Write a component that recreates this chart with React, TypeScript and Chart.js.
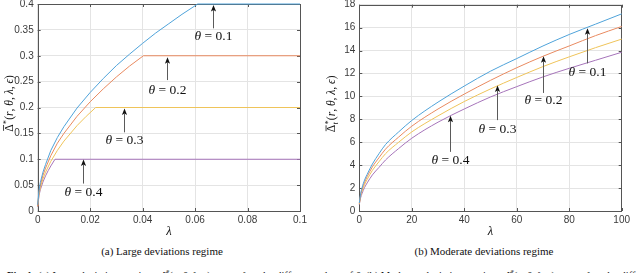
import React, { useEffect, useRef } from "react";
import { Chart, registerables } from "chart.js";
Chart.register(...registerables);

// ---------- (a) Large deviations regime ----------
const lamA1 = [0, 0.0005, 0.001, 0.002, 0.003, 0.005, 0.0075, 0.01, 0.015, 0.02, 0.025, 0.03, 0.035, 0.04, 0.045, 0.05, 0.055, 0.061, 0.1];
const valA1 = [0.012, 0.04, 0.055, 0.075, 0.09, 0.117, 0.142, 0.163, 0.199, 0.229, 0.256, 0.281, 0.303, 0.324, 0.344, 0.362, 0.38, 0.4, 0.4];
const lamA2 = [0, 0.0005, 0.001, 0.002, 0.003, 0.005, 0.0075, 0.01, 0.015, 0.02, 0.025, 0.03, 0.035, 0.0403, 0.1];
const valA2 = [0.01, 0.036, 0.05, 0.069, 0.083, 0.107, 0.131, 0.15, 0.183, 0.211, 0.236, 0.259, 0.28, 0.3, 0.3];
const lamA3 = [0, 0.0005, 0.001, 0.002, 0.003, 0.005, 0.0075, 0.01, 0.015, 0.0185, 0.0221, 0.1];
const valA3 = [0.009, 0.032, 0.045, 0.062, 0.075, 0.096, 0.117, 0.135, 0.165, 0.183, 0.2, 0.2];
const lamA4 = [0, 0.0005, 0.001, 0.002, 0.003, 0.004, 0.005, 0.0066, 0.1];
const valA4 = [0.008, 0.03, 0.041, 0.056, 0.068, 0.078, 0.087, 0.1, 0.1];

// ---------- (b) Moderate deviations regime ----------
const lamB = [0, 0.5, 1, 2, 3, 5, 7.5, 10, 15, 20, 30, 40, 50, 60, 70, 80, 90, 100];
const valB1 = [0.7, 1.5, 2.0, 2.7, 3.2, 4.1, 5.0, 5.8, 6.9, 7.9, 9.5, 10.9, 12.2, 13.3, 14.4, 15.4, 16.3, 17.2];
const valB2 = [0.65, 1.4, 1.85, 2.5, 3.0, 3.85, 4.65, 5.4, 6.45, 7.4, 8.9, 10.2, 11.4, 12.5, 13.5, 14.4, 15.3, 16.1];
const valB3 = [0.6, 1.3, 1.7, 2.3, 2.75, 3.55, 4.3, 5.0, 6.0, 6.9, 8.3, 9.55, 10.65, 11.65, 12.6, 13.45, 14.25, 15.0];
const valB4 = [0.55, 1.15, 1.5, 2.05, 2.45, 3.15, 3.8, 4.45, 5.45, 6.35, 7.75, 8.9, 9.95, 10.85, 11.7, 12.45, 13.15, 13.85];

const thetaLabels = ["0.1", "0.2", "0.3", "0.4"];

// annotation arrows (data coordinates): x, arrow tip y, arrow tail y, label centre y
const annA_x = [0.0667, 0.0492, 0.033, 0.0174];
const annA_tip = [0.398, 0.297, 0.198, 0.0995];
const annA_tail = [0.353, 0.253, 0.152, 0.053];
const annA_text = [0.337, 0.2336, 0.137, 0.0368];

const annB_x = [86.7, 69.9, 52.4, 34.7];
const annB_tip = [15.95, 13.5, 10.95, 8.3];
const annB_tail = [12.88, 10.3, 7.93, 5.16];
const annB_text = [12.06, 9.67, 7.11, 4.43];

const xTicksA = { min: 0, max: 0.1, step: 0.02 };
const yTicksA = { min: 0, max: 0.4, step: 0.05 };
const xTicksB = { min: 0, max: 100, step: 20 };
const yTicksB = { min: 0, max: 18, step: 2 };

const COLORS = ["#4fa3da", "#e98a60", "#efc45a", "#a674ba"];
const TICK_FONT = { family: "'Liberation Sans', Arial, sans-serif", size: 10 };
const SERIF = "'Liberation Serif', 'Times New Roman', serif";

function pts(xs: number[], ys: number[]) {
  return xs.map((x, i) => ({ x, y: ys[i] }));
}

function fmtTick(v: any) {
  return String(Number(Number(v).toFixed(6)));
}

function drawTheta(ctx: CanvasRenderingContext2D, cx: number, cy: number, val: string) {
  const it = `italic 13.5px ${SERIF}`;
  const rm = `13.5px ${SERIF}`;
  ctx.font = it;
  const w1 = ctx.measureText("θ").width;
  ctx.font = rm;
  const rest = " = " + val;
  const w2 = ctx.measureText(rest).width;
  const x0 = cx - (w1 + w2) / 2;
  ctx.textBaseline = "middle";
  ctx.textAlign = "left";
  ctx.fillStyle = "#111";
  ctx.font = it;
  ctx.fillText("θ", x0, cy);
  ctx.font = rm;
  ctx.fillText(rest, x0 + w1, cy);
}

function drawYTitle(ctx: CanvasRenderingContext2D, cx: number, cy: number, withT: boolean) {
  const size = 11.5;
  const it = `italic ${size}px ${SERIF}`;
  const rm = `${size}px ${SERIF}`;
  const sm = `${size * 0.72}px ${SERIF}`;
  const smi = `italic ${size * 0.72}px ${SERIF}`;
  const parts: { t: string; f: string }[] = [
    { t: "(", f: rm }, { t: "r", f: it }, { t: ", ", f: rm }, { t: "θ", f: it }, { t: ", ", f: rm },
    { t: "λ", f: it }, { t: ", ", f: rm }, { t: "ϵ", f: it }, { t: ")", f: rm },
  ];
  ctx.save();
  ctx.translate(cx, cy);
  ctx.rotate(-Math.PI / 2);
  ctx.fillStyle = "#111";
  ctx.textBaseline = "alphabetic";
  ctx.textAlign = "left";
  ctx.font = rm;
  const wD = ctx.measureText("Δ").width;
  ctx.font = sm;
  const wS = Math.max(ctx.measureText("*").width, withT ? ctx.measureText("t").width : 0) + 0.5;
  let wP = 0;
  for (const p of parts) { ctx.font = p.f; wP += ctx.measureText(p.t).width; }
  const total = wD + wS + wP;
  let x = -total / 2;
  const base = size * 0.35;
  ctx.font = rm;
  ctx.fillText("Δ", x, base);
  ctx.strokeStyle = "#111";
  ctx.lineWidth = 0.8;
  ctx.beginPath();
  ctx.moveTo(x + 1, base - size * 0.78);
  ctx.lineTo(x + wD - 0.5, base - size * 0.78);
  ctx.stroke();
  x += wD;
  ctx.font = sm;
  ctx.fillText("*", x + 0.3, base - size * 0.32);
  if (withT) { ctx.font = smi; ctx.fillText("t", x + 0.3, base + size * 0.25); }
  x += wS;
  for (const p of parts) { ctx.font = p.f; ctx.fillText(p.t, x, base); x += ctx.measureText(p.t).width; }
  ctx.restore();
}

function makeDecor(axX: number[], tip: number[], tail: number[], txt: number[], yTitleX: number, withT: boolean) {
  return {
    id: "decor",
    beforeDatasetsDraw(chart: any) {
      const ctx: CanvasRenderingContext2D = chart.ctx;
      const { left, right, top, bottom } = chart.chartArea;
      const xs = chart.scales.x;
      const ys = chart.scales.y;
      ctx.save();
      ctx.strokeStyle = "#555";
      ctx.lineWidth = 1;
      ctx.strokeRect(Math.round(left) + 0.5, Math.round(top) + 0.5, Math.round(right - left), Math.round(bottom - top));
      ctx.beginPath();
      for (const t of xs.ticks) {
        const px = Math.round(xs.getPixelForValue(t.value)) + 0.5;
        ctx.moveTo(px, bottom); ctx.lineTo(px, bottom - 3);
        ctx.moveTo(px, top); ctx.lineTo(px, top + 3);
      }
      for (const t of ys.ticks) {
        const py = Math.round(ys.getPixelForValue(t.value)) + 0.5;
        ctx.moveTo(left, py); ctx.lineTo(left + 3, py);
        ctx.moveTo(right, py); ctx.lineTo(right - 3, py);
      }
      ctx.stroke();
      ctx.restore();
    },
    afterDatasetsDraw(chart: any) {
      const ctx: CanvasRenderingContext2D = chart.ctx;
      const { left, right, top, bottom } = chart.chartArea;
      const xs = chart.scales.x;
      const ys = chart.scales.y;
      ctx.save();
      for (let i = 0; i < axX.length; i++) {
        const px = Math.round(xs.getPixelForValue(axX[i])) + 0.5;
        const pTip = ys.getPixelForValue(tip[i]);
        const pTail = ys.getPixelForValue(tail[i]);
        const pTxt = ys.getPixelForValue(txt[i]);
        ctx.strokeStyle = "#5a5a5a";
        ctx.lineWidth = 1;
        ctx.beginPath();
        ctx.moveTo(px, pTail);
        ctx.lineTo(px, pTip + 5);
        ctx.stroke();
        ctx.fillStyle = "#111";
        ctx.beginPath();
        ctx.moveTo(px, pTip);
        ctx.lineTo(px - 2.6, pTip + 6.5);
        ctx.lineTo(px, pTip + 5);
        ctx.lineTo(px + 2.6, pTip + 6.5);
        ctx.closePath();
        ctx.fill();
        drawTheta(ctx, px, pTxt, thetaLabels[i]);
      }
      drawYTitle(ctx, yTitleX, (top + bottom) / 2 - 4, withT);
      ctx.font = `italic 12.5px ${SERIF}`;
      ctx.fillStyle = "#111";
      ctx.textAlign = "center";
      ctx.textBaseline = "middle";
      ctx.fillText("λ", (left + right) / 2, bottom + 21);
      ctx.restore();
    },
  };
}

function buildOptions(xt: any, yt: any, padTop: number, padRight: number, yWidth: number) {
  return {
    animation: false,
    responsive: false,
    devicePixelRatio: 1,
    layout: { padding: { top: padTop, right: padRight, left: 0, bottom: 0 } },
    plugins: { legend: { display: false }, tooltip: { enabled: false } },
    elements: { point: { radius: 0 } },
    scales: {
      x: {
        type: "linear",
        min: xt.min,
        max: xt.max,
        ticks: { stepSize: xt.step, padding: 3, font: TICK_FONT, color: "#3a3a3a", autoSkip: false, maxRotation: 0, callback: fmtTick },
        grid: { color: "#e4e4e4", drawTicks: false },
        border: { display: false },
        afterFit: (s: any) => { s.height = 30; s.paddingLeft = 0; s.paddingRight = 0; },
      },
      y: {
        type: "linear",
        min: yt.min,
        max: yt.max,
        ticks: { stepSize: yt.step, padding: 4, font: TICK_FONT, color: "#3a3a3a", autoSkip: false, callback: fmtTick },
        grid: { color: "#e4e4e4", drawTicks: false },
        border: { display: false },
        afterFit: (s: any) => { s.width = yWidth; s.paddingTop = 0; s.paddingBottom = 0; },
      },
    },
  };
}

function PlotA() {
  const ref = useRef<HTMLCanvasElement>(null);
  useEffect(() => {
    const series = [pts(lamA1, valA1), pts(lamA2, valA2), pts(lamA3, valA3), pts(lamA4, valA4)];
    const chart = new Chart(ref.current!, {
      type: "line",
      data: {
        datasets: series.map((d, i) => ({ data: d, borderColor: COLORS[i], borderWidth: 1, tension: 0, pointRadius: 0, fill: false, clip: 3 })),
      },
      options: buildOptions(xTicksA, yTicksA, 14, 20, 37.7) as any,
      plugins: [makeDecor(annA_x, annA_tip, annA_tail, annA_text, 8.5, false)],
    });
    return () => chart.destroy();
  }, []);
  return <canvas ref={ref} width={320} height={251} style={{ position: "absolute", left: 0, top: -10 }} />;
}

function PlotB() {
  const ref = useRef<HTMLCanvasElement>(null);
  useEffect(() => {
    const series = [pts(lamB, valB1), pts(lamB, valB2), pts(lamB, valB3), pts(lamB, valB4)];
    const chart = new Chart(ref.current!, {
      type: "line",
      data: {
        datasets: series.map((d, i) => ({ data: d, borderColor: COLORS[i], borderWidth: 1, cubicInterpolationMode: "monotone", pointRadius: 0, fill: false, clip: 3 })),
      },
      options: buildOptions(xTicksB, yTicksB, 14.7, 18.3, 39.3) as any,
      plugins: [makeDecor(annB_x, annB_tip, annB_tail, annB_text, 11, true)],
    });
    return () => chart.destroy();
  }, []);
  return <canvas ref={ref} width={320} height={251} style={{ position: "absolute", left: 320, top: -10 }} />;
}

export default function App() {
  const cap: React.CSSProperties = {
    position: "absolute", top: 244, fontFamily: SERIF, fontSize: 11, lineHeight: "14px", color: "#111", whiteSpace: "nowrap", transform: "translateX(-50%)",
  };
  return (
    <div style={{ position: "fixed", left: 0, top: 0, width: 640, height: 273, overflow: "hidden", background: "#fff" }}>
      <PlotA />
      <PlotB />
      <div style={{ ...cap, left: 162 }}>(a) Large deviations regime</div>
      <div style={{ ...cap, left: 484 }}>(b) Moderate deviations regime</div>
      <div style={{ position: "absolute", left: 7, top: 265, fontFamily: SERIF, fontSize: 10.5, lineHeight: "14px", color: "#111", whiteSpace: "nowrap" }}>
        <b>Fig. 1:</b> (a) Large deviations regime: <i>Δ̄</i><sup style={{ fontSize: 7 }}>*</sup>(<i>r</i>, <i>θ</i>, <i>λ</i>, <i>ϵ</i>) versus <i>λ</i> under different values of <i>θ</i>. (b) Moderate deviations regime: <i>Δ̄</i><sup style={{ fontSize: 7 }}>*</sup>(<i>r</i>, <i>θ</i>, <i>λ</i>, <i>ϵ</i>) versus <i>λ</i> under different values of <i>θ</i>.
      </div>
    </div>
  );
}
